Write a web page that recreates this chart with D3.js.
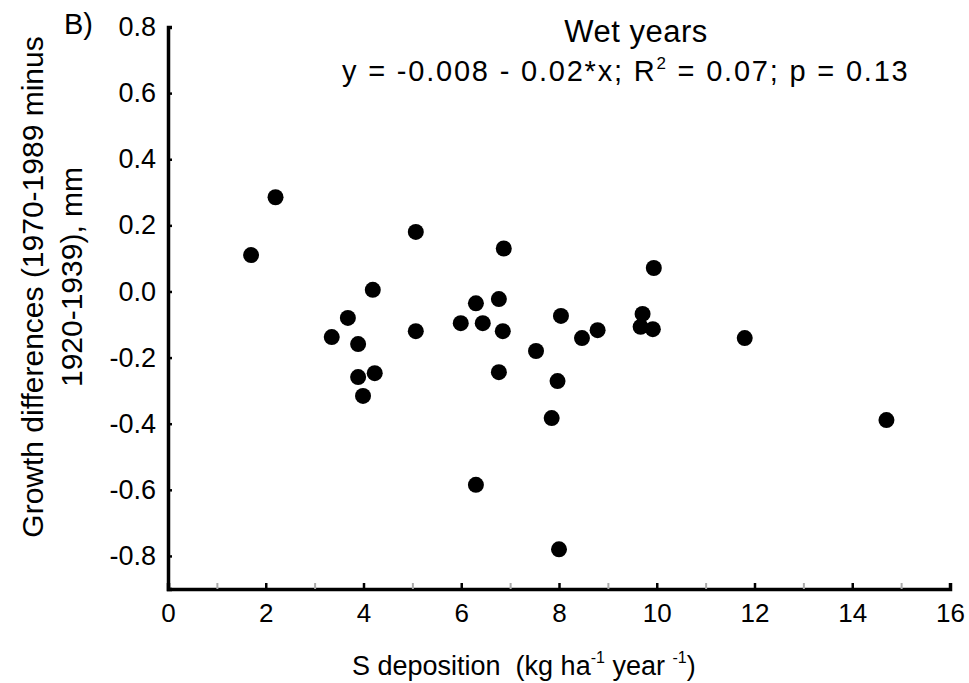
<!DOCTYPE html>
<html>
<head>
<meta charset="utf-8">
<script src="https://cdn.jsdelivr.net/npm/d3@7"></script>
<style>
  html, body { margin: 0; padding: 0; background: #fff; }
  text { font-family: "Liberation Sans", Arial, sans-serif; fill: #000; }
</style>
</head>
<body>
<svg id="chart" width="969" height="683"></svg>
<script>
// ---- data ----
const sDeposition = [1.7, 2.2, 3.35, 3.68, 3.89, 3.89, 3.99, 4.19, 4.23, 5.07, 5.07, 5.99, 6.3, 6.3, 6.44, 6.77, 6.77, 6.87, 6.85, 7.53, 7.85, 7.97, 8.0, 8.04, 8.47, 8.79, 9.71, 9.67, 9.92, 9.94, 11.8, 14.7];
const growthDiff  = [0.11, 0.285, -0.138, -0.08, -0.159, -0.259, -0.316, 0.005, -0.247, 0.18, -0.12, -0.096, -0.036, -0.585, -0.096, -0.023, -0.244, 0.13, -0.12, -0.18, -0.383, -0.271, -0.78, -0.074, -0.141, -0.117, -0.068, -0.107, -0.114, 0.071, -0.141, -0.389];
const xTickValues = [0, 2, 4, 6, 8, 10, 12, 14, 16];
const xMinorTicks = [1, 3, 5, 7, 9, 11, 13, 15];
const yTickValues = [0.8, 0.6, 0.4, 0.2, 0.0, -0.2, -0.4, -0.6, -0.8];
const panelLabel = "B)";
const titleText = "Wet years";

const svg = d3.select("#chart");

const x = d3.scaleLinear().domain([0, 16]).range([168, 950]);
const y = d3.scaleLinear().domain([-0.9, 0.8]).range([589, 27]);

// x axis
const xAxis = svg.append("g").attr("transform", `translate(0,${y(-0.9)})`)
  .call(d3.axisBottom(x).tickValues(xTickValues).tickFormat(d3.format("d")).tickSize(-6).tickPadding(15));
xAxis.select(".domain").attr("stroke", "#000").attr("stroke-width", 3.5);
xAxis.selectAll(".tick line").attr("stroke", "#000").attr("stroke-width", 2.5);
xAxis.selectAll(".tick text").attr("font-size", 26).attr("font-family", "Liberation Sans, Arial, sans-serif").attr("dy", "0.71em");

const xMinor = svg.append("g").attr("transform", `translate(0,${y(-0.9)})`)
  .call(d3.axisBottom(x).tickValues(xMinorTicks).tickFormat("").tickSize(-6));
xMinor.select(".domain").remove();
xMinor.selectAll(".tick line").attr("stroke", "#aaa").attr("stroke-width", 2);

// y axis
const yAxis = svg.append("g").attr("transform", `translate(${x(0)},0)`)
  .call(d3.axisLeft(y).tickValues(yTickValues).tickFormat(d3.format(".1f")).tickSize(-4).tickPadding(12));
yAxis.select(".domain").attr("stroke", "#000").attr("stroke-width", 3.5);
yAxis.selectAll(".tick line").attr("stroke", "#000").attr("stroke-width", 2.5);
yAxis.selectAll(".tick text").attr("font-size", 27).attr("font-family", "Liberation Sans, Arial, sans-serif")
  .text(d => d3.format(".1f")(d).replace("−", "-"));

// points
svg.append("g").selectAll("circle")
  .data(sDeposition.map((d, i) => [d, growthDiff[i]]))
  .join("circle")
  .attr("cx", d => x(d[0]))
  .attr("cy", d => y(d[1]))
  .attr("r", 8)
  .attr("fill", "#000");

// panel label
svg.append("text").attr("x", 64).attr("y", 34).attr("font-size", 29).text(panelLabel);

// title + equation
svg.append("text").attr("x", 636).attr("y", 42).attr("text-anchor", "middle").attr("font-size", 31)
  .attr("letter-spacing", 0.5).text(titleText);
const eq = svg.append("text").attr("x", 342).attr("y", 81).attr("font-size", 29).attr("letter-spacing", 1.8);
eq.append("tspan").text("y = -0.008 - 0.02*x; R");
eq.append("tspan").attr("font-size", 17).attr("dy", -12).text("2");
eq.append("tspan").attr("dy", 12).text(" = 0.07; p = 0.13");

// x title
const xt = svg.append("text").attr("x", 352).attr("y", 675).attr("font-size", 27).attr("xml:space", "preserve");
xt.append("tspan").text("S deposition  (kg ha");
xt.append("tspan").attr("font-size", 16).attr("dy", -12).text("-1");
xt.append("tspan").attr("dy", 12).text(" year ");
xt.append("tspan").attr("font-size", 16).attr("dy", -12).text("-1");
xt.append("tspan").attr("dy", 12).text(")");

// y title
svg.append("text").attr("transform", "translate(43,287) rotate(-90)").attr("text-anchor", "middle")
  .attr("font-size", 30).text("Growth differences (1970-1989 minus");
svg.append("text").attr("transform", "translate(82,277) rotate(-90)").attr("text-anchor", "middle")
  .attr("font-size", 30).text("1920-1939), mm");
</script>
</body>
</html>
